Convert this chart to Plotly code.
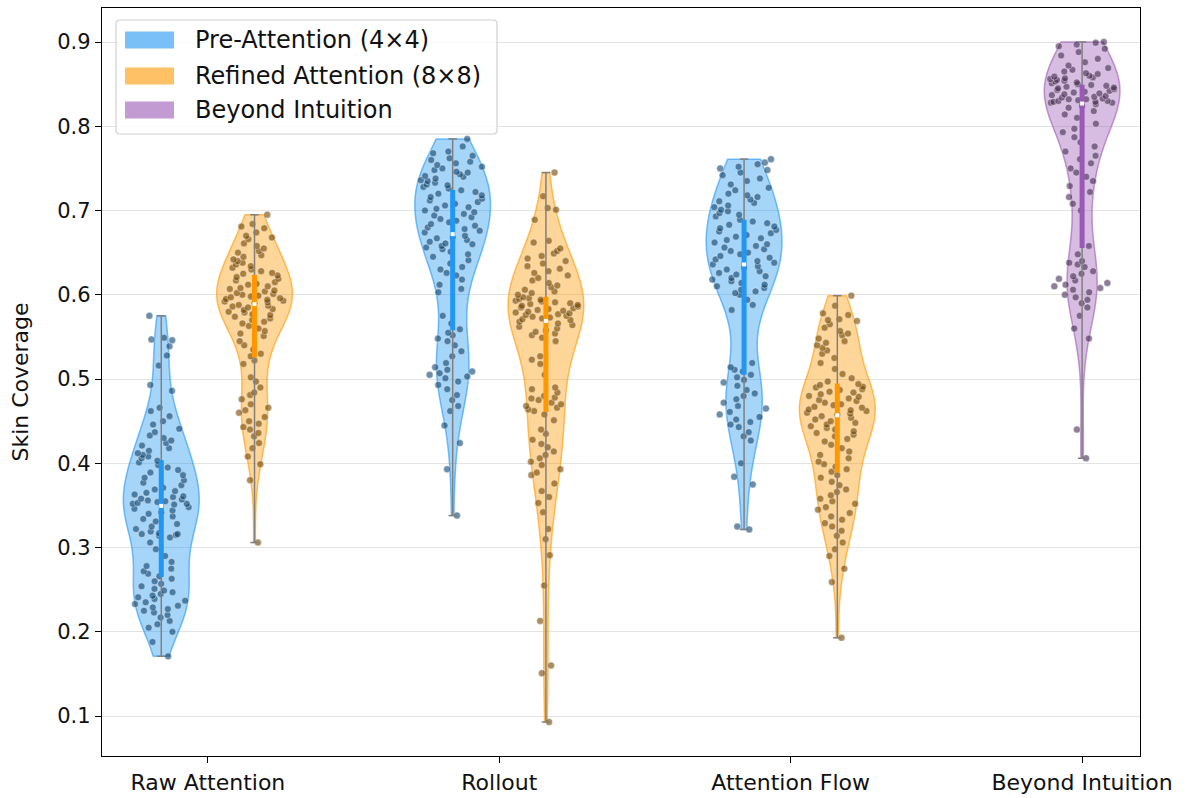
import numpy as np
import plotly.graph_objects as go

categories = ["Raw Attention", "Rollout", "Attention Flow", "Beyond Intuition"]
series_names = ["Pre-Attention (4×4)", "Refined Attention (8×8)", "Beyond Intuition"]

raw_pre = [0.575, 0.549, 0.547, 0.546, 0.539, 0.528, 0.516, 0.493, 0.486, 0.466, 0.462, 0.456, 0.450, 0.446,
           0.441, 0.437, 0.433, 0.430, 0.427, 0.424, 0.421, 0.418, 0.415, 0.412, 0.410, 0.408, 0.406,
           0.403, 0.401, 0.398, 0.395, 0.392, 0.389, 0.386, 0.383, 0.380, 0.377, 0.374, 0.371, 0.369, 0.367,
           0.365, 0.363, 0.361, 0.360, 0.358, 0.357, 0.356, 0.355, 0.354, 0.353, 0.352, 0.352, 0.351,
           0.348, 0.346, 0.344, 0.342, 0.340, 0.337, 0.334, 0.331, 0.328, 0.325, 0.322, 0.319, 0.317, 0.316,
           0.316, 0.315, 0.314, 0.312, 0.306, 0.298, 0.290, 0.283, 0.278, 0.275, 0.272, 0.269, 0.266,
           0.263, 0.260, 0.257, 0.254, 0.251, 0.249, 0.247, 0.245, 0.243, 0.241, 0.239, 0.237, 0.235, 0.233,
           0.231, 0.229, 0.227, 0.225, 0.223, 0.220, 0.217, 0.213, 0.209, 0.205, 0.200, 0.188, 0.171]

raw_ref = [0.695, 0.684, 0.681, 0.679, 0.674, 0.670, 0.668, 0.666, 0.661, 0.658, 0.655, 0.652, 0.650, 0.647,
           0.645, 0.642, 0.640, 0.638, 0.636, 0.634, 0.632, 0.630, 0.628, 0.626, 0.625,
           0.623, 0.621, 0.619, 0.617, 0.615, 0.613, 0.612, 0.610, 0.608, 0.607, 0.605, 0.604, 0.602, 0.601,
           0.600, 0.599, 0.598, 0.597, 0.596, 0.595, 0.594, 0.593, 0.592, 0.591, 0.590,
           0.588, 0.587, 0.586, 0.585, 0.583, 0.582, 0.580, 0.579, 0.577, 0.576, 0.574, 0.572, 0.570, 0.568,
           0.566, 0.563, 0.560, 0.557, 0.554, 0.551, 0.545, 0.540, 0.535, 0.530, 0.527,
           0.522, 0.518, 0.502, 0.497, 0.490, 0.484, 0.481, 0.476, 0.470, 0.466, 0.463, 0.460, 0.455, 0.450,
           0.447, 0.443, 0.440, 0.436, 0.432, 0.424, 0.418, 0.408, 0.399, 0.380, 0.306]

rollout_pre = [0.785, 0.776, 0.770, 0.768, 0.765, 0.762, 0.760, 0.758, 0.756, 0.754, 0.752, 0.750, 0.748,
               0.746, 0.745, 0.743, 0.741, 0.740, 0.738, 0.736, 0.735, 0.733, 0.731, 0.730, 0.728, 0.726,
               0.724, 0.722, 0.720, 0.718, 0.716, 0.714, 0.712, 0.710, 0.708, 0.706, 0.704, 0.702, 0.700,
               0.698, 0.696, 0.694, 0.692, 0.690, 0.688, 0.686, 0.684, 0.682, 0.680, 0.678, 0.676, 0.674,
               0.670, 0.668, 0.667, 0.665, 0.663, 0.661, 0.660, 0.658, 0.656, 0.654, 0.651, 0.648, 0.645,
               0.641, 0.637, 0.633, 0.630, 0.626, 0.623, 0.618, 0.612, 0.607, 0.603, 0.575, 0.566, 0.559,
               0.555, 0.552, 0.548, 0.545, 0.540, 0.533, 0.527, 0.519, 0.514, 0.511, 0.509, 0.507, 0.505,
               0.503, 0.501, 0.497, 0.493, 0.488, 0.481, 0.475, 0.468, 0.462, 0.445, 0.424, 0.393, 0.338]

rollout_ref = [0.745, 0.717, 0.703, 0.701, 0.689, 0.664, 0.662, 0.655, 0.652, 0.649, 0.646, 0.643, 0.640,
               0.637, 0.634, 0.631, 0.628, 0.626, 0.623, 0.620, 0.617, 0.614, 0.611, 0.609, 0.606, 0.604,
               0.602, 0.600,
               0.597, 0.596, 0.595, 0.594, 0.593, 0.592, 0.591, 0.590, 0.589, 0.588, 0.587, 0.586, 0.585,
               0.584, 0.583, 0.582, 0.581, 0.580, 0.579, 0.578, 0.577, 0.576, 0.575, 0.574, 0.573, 0.572,
               0.571, 0.570,
               0.568, 0.566, 0.564, 0.562, 0.560, 0.558, 0.556, 0.554, 0.552, 0.549, 0.545, 0.527, 0.523,
               0.518, 0.505, 0.490, 0.488, 0.484, 0.480, 0.478, 0.477, 0.475, 0.472, 0.470, 0.468, 0.466,
               0.464, 0.462,
               0.458, 0.451, 0.440, 0.435, 0.428, 0.423, 0.419, 0.414, 0.410, 0.406, 0.402, 0.398, 0.393,
               0.389, 0.386, 0.376, 0.367, 0.360, 0.353, 0.342, 0.322, 0.310, 0.291, 0.255, 0.213, 0.160,
               0.151, 0.093]

flow_pre = [0.761, 0.757, 0.755, 0.752, 0.750, 0.748, 0.745, 0.742, 0.738, 0.735, 0.731, 0.727, 0.724,
            0.720, 0.718, 0.716, 0.713, 0.711, 0.709, 0.706, 0.704, 0.701, 0.699, 0.697, 0.695, 0.693,
            0.689, 0.687, 0.685, 0.683, 0.681, 0.679, 0.677, 0.675, 0.673, 0.671, 0.669, 0.667, 0.665,
            0.662, 0.660, 0.658, 0.656, 0.654, 0.652, 0.650, 0.648, 0.646, 0.644, 0.642, 0.640, 0.638,
            0.636, 0.634, 0.632, 0.630, 0.628, 0.626, 0.624, 0.622, 0.620, 0.618, 0.616, 0.614, 0.612,
            0.610, 0.608, 0.606, 0.604, 0.602, 0.600, 0.594, 0.588, 0.582, 0.519, 0.514, 0.511, 0.509,
            0.505, 0.502, 0.499, 0.496, 0.492, 0.487, 0.483, 0.480, 0.476, 0.472, 0.468, 0.465, 0.461,
            0.458, 0.455, 0.452, 0.449, 0.446, 0.443, 0.437, 0.432, 0.427, 0.400, 0.384, 0.375, 0.325, 0.3215]

flow_ref = [0.599, 0.587, 0.578, 0.576, 0.571, 0.570, 0.569, 0.565, 0.561, 0.557, 0.554, 0.552, 0.548,
            0.545, 0.543, 0.540, 0.537, 0.534, 0.530, 0.525, 0.519, 0.512, 0.506, 0.501, 0.497,
            0.494, 0.493, 0.491, 0.490, 0.488, 0.487, 0.485, 0.484, 0.482, 0.480, 0.479, 0.477, 0.475,
            0.474, 0.472, 0.470, 0.469, 0.467, 0.466, 0.464, 0.463, 0.462, 0.460, 0.459, 0.458,
            0.456, 0.454, 0.452, 0.450, 0.448, 0.446, 0.444, 0.442, 0.440, 0.438, 0.436, 0.434, 0.432,
            0.429, 0.426, 0.422, 0.418, 0.414, 0.410, 0.406, 0.402, 0.399, 0.396, 0.393, 0.390,
            0.386, 0.383, 0.378, 0.374, 0.369, 0.366, 0.362, 0.358, 0.355, 0.352, 0.348, 0.345, 0.341,
            0.337, 0.333, 0.329, 0.325, 0.320, 0.314, 0.306, 0.298, 0.290, 0.275, 0.259, 0.193]

beyond = [0.900, 0.899, 0.897, 0.895, 0.892, 0.888, 0.884, 0.880, 0.876, 0.872, 0.869, 0.867, 0.865,
          0.863, 0.862, 0.860, 0.859, 0.858, 0.857, 0.856, 0.855, 0.854, 0.853, 0.852, 0.851, 0.850,
          0.849, 0.848, 0.847, 0.846, 0.845, 0.844, 0.843, 0.842, 0.841, 0.840, 0.839, 0.838, 0.837,
          0.836, 0.835, 0.834, 0.833, 0.832, 0.832, 0.831, 0.830, 0.830, 0.829, 0.829, 0.828, 0.828,
          0.826, 0.824, 0.822, 0.818, 0.814, 0.810, 0.803, 0.797, 0.793, 0.787, 0.781, 0.776, 0.770,
          0.765, 0.761, 0.756, 0.750, 0.745, 0.740, 0.735, 0.729, 0.722, 0.716, 0.708, 0.700, 0.658,
          0.648, 0.640, 0.638, 0.636, 0.633, 0.628, 0.625, 0.622, 0.619, 0.617, 0.614, 0.612, 0.610,
          0.608, 0.606, 0.603, 0.600, 0.597, 0.594, 0.590, 0.585, 0.575, 0.560, 0.548, 0.440, 0.406]

y_ticks = [0.1, 0.2, 0.3, 0.4, 0.5, 0.6, 0.7, 0.8, 0.9]

# ---------------- styling ----------------
BASE = {"pre": (33, 150, 243), "ref": (255, 152, 0), "bi": (155, 89, 182)}
OFFSET = 0.16
VIOLIN_W = 0.26
FONT = "DejaVu Sans"

W, H = 1189, 798
ML, MR, MT, MB = 102, 49, 8, 42


def rgba(c, a):
    return "rgba(%d,%d,%d,%.3f)" % (c[0], c[1], c[2], a)


def dark(c, f=0.45):
    return tuple(int(v * f) for v in c)


groups = [
    (0 - OFFSET, raw_pre, "pre"),
    (0 + OFFSET, raw_ref, "ref"),
    (1 - OFFSET, rollout_pre, "pre"),
    (1 + OFFSET, rollout_ref, "ref"),
    (2 - OFFSET, flow_pre, "pre"),
    (2 + OFFSET, flow_ref, "ref"),
    (3, beyond, "bi"),
]

fig = go.Figure()

for pos, vals, key in groups:
    arr = np.asarray(vals)
    bw = arr.std(ddof=1) * len(arr) ** (-0.2)
    c = BASE[key]
    fig.add_trace(go.Violin(
        x0=pos, y=vals, orientation="v", width=VIOLIN_W, scalemode="width",
        spanmode="hard", bandwidth=bw, points="all", pointpos=0, jitter=0.85,
        fillcolor=rgba(c, 0.4), line=dict(color=rgba(c, 0.6), width=1.5),
        marker=dict(color=rgba(dark(c), 0.6), size=7,
                    line=dict(color="rgba(255,255,255,0.7)", width=0.6)),
        box_visible=False, meanline_visible=False, showlegend=False,
        hoverinfo="skip",
    ))

for pos, vals, key in groups:
    arr = np.asarray(vals)
    c = BASE[key]
    q1, med, q3 = np.percentile(arr, [25, 50, 75])
    lo, hi = arr.min(), arr.max()
    fig.add_trace(go.Scatter(x=[pos, pos], y=[lo, hi], mode="lines+markers",
                             line=dict(color="#808080", width=1.5),
                             marker=dict(symbol="line-ew", size=6,
                                         line=dict(color="#808080", width=1.5)),
                             showlegend=False, hoverinfo="skip"))
    fig.add_trace(go.Scatter(x=[pos, pos], y=[q1, q3], mode="lines",
                             line=dict(color=rgba(c, 1.0), width=5),
                             showlegend=False, hoverinfo="skip"))
    fig.add_trace(go.Scatter(x=[pos], y=[med], mode="markers",
                             marker=dict(symbol="square", size=4, color="white"),
                             showlegend=False, hoverinfo="skip"))

all_vals = np.concatenate([np.asarray(g[1]) for g in groups])
dmin, dmax = all_vals.min(), all_vals.max()
pad = 0.05 * (dmax - dmin)

# manual legend (pixel layout -> paper coords)
pw, ph = W - ML - MR, H - MT - MB


def px(x):
    return (x - ML) / pw


def py(y):
    return (H - MB - y) / ph


def rounded_rect(x0, y0, x1, y1, r):
    rx, ry = r / pw, r / ph
    X0, X1, Y0, Y1 = px(x0), px(x1), py(y1), py(y0)
    return (f"M {X0+rx},{Y0} L {X1-rx},{Y0} Q {X1},{Y0} {X1},{Y0+ry} "
            f"L {X1},{Y1-ry} Q {X1},{Y1} {X1-rx},{Y1} L {X0+rx},{Y1} "
            f"Q {X0},{Y1} {X0},{Y1-ry} L {X0},{Y0+ry} Q {X0},{Y0} {X0+rx},{Y0} Z")


shapes = [dict(type="path", xref="paper", yref="paper",
               path=rounded_rect(116, 20, 497, 134, 4),
               line=dict(color="#d0d0d0", width=1.2),
               fillcolor="rgba(255,255,255,0.85)", layer="above")]
annotations = []
row_y = [40, 76, 110]
for name, key, ry in zip(series_names, ["pre", "ref", "bi"], row_y):
    shapes.append(dict(type="rect", xref="paper", yref="paper",
                       x0=px(125), x1=px(174), y0=py(ry + 8.5), y1=py(ry - 8.5),
                       line=dict(width=0), fillcolor=rgba(BASE[key], 0.6), layer="above"))
    annotations.append(dict(xref="paper", yref="paper", x=px(193), y=py(ry),
                            xanchor="left", yanchor="middle", text=name, showarrow=False,
                            font=dict(family=FONT, size=24, color="#111")))

fig.update_layout(
    width=W, height=H, margin=dict(l=ML, r=MR, t=MT, b=MB, autoexpand=False),
    plot_bgcolor="white", paper_bgcolor="white",
    violinmode="overlay", showlegend=False,
    shapes=shapes, annotations=annotations,
    font=dict(family=FONT, color="#111"),
    xaxis=dict(range=[-0.3634, 3.1987], tickvals=[0, 1, 2, 3], ticktext=categories,
               ticks="outside", ticklen=6, tickwidth=1.2, tickcolor="black",
               ticklabelstandoff=0, automargin=False,
               showgrid=False, zeroline=False, showline=True, mirror=True,
               linecolor="black", linewidth=1.3, tickfont=dict(size=22)),
    yaxis=dict(range=[dmin - pad, dmax + pad], tickvals=y_ticks,
               ticktext=["%.1f" % v for v in y_ticks], automargin=False,
               ticks="outside", ticklen=6, tickwidth=1.2, tickcolor="black",
               showgrid=True, gridcolor="#e3e3e3", gridwidth=1, zeroline=False,
               showline=True, mirror=True, linecolor="black", linewidth=1.3,
               tickfont=dict(size=21),
               title=dict(text="Skin Coverage", font=dict(size=22), standoff=22)),
)

fig.write_html("out.html", config={"displayModeBar": False},
               post_script="document.body.style.margin='0';")
